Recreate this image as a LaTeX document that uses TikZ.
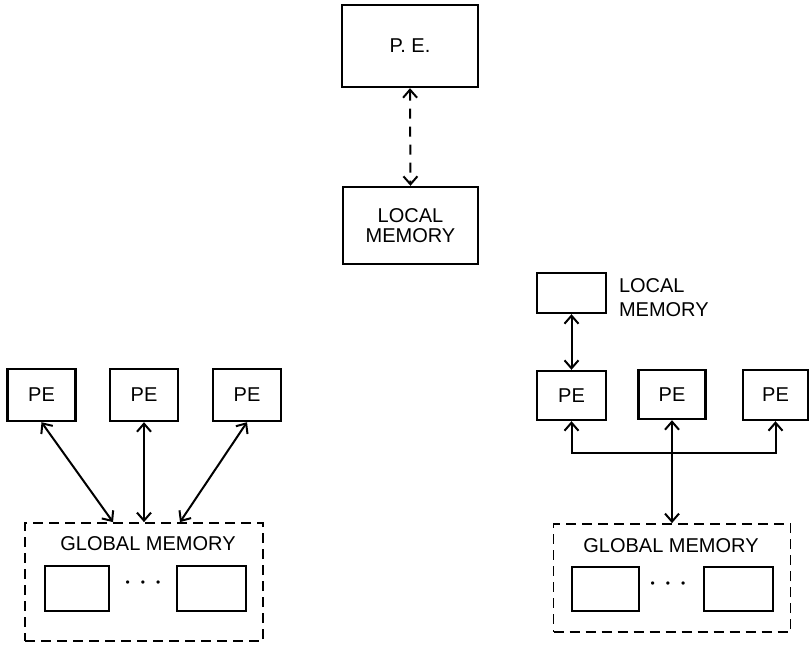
\documentclass[tikz,border=0pt]{standalone}
\usepackage{fontspec}
\setmainfont{Liberation Sans}
\usetikzlibrary{arrows.meta, positioning}
\newcommand{\gapdots}{{\fontsize{6}{6}\selectfont\textbullet\hspace{5.5pt}\textbullet\hspace{5.5pt}\textbullet}}
\tikzset{
  every picture/.style={font=\fontsize{10}{12}\selectfont, line width=1pt},
  box/.style={draw, line width=1.2pt, align=center, inner sep=0pt, minimum width=#1},
  box/.default=34pt,
  membox/.style={draw, dashed, dash pattern=on 5pt off 3pt, line width=0.9pt, minimum width=119pt, minimum height=56pt},
  arrow/.style={{Straight Barb[length=4pt, width=7pt]}-{Straight Barb[length=4pt, width=7pt]}, line width=1pt},
  label/.style={align=left, inner sep=0pt},
}
\begin{document}
\begin{tikzpicture}[x=0.5pt, y=-0.5pt]
  \useasboundingbox (0,0) rectangle (810,644);
  % top: one PE and its local memory
  \node[box=68pt, minimum height=41pt] (pe) at (410,46) {P. E.};
  \node[box=67.5pt, minimum height=38.5pt] (lmem) at (410.5,225.5) {\raisebox{-3pt}{\shortstack{LOCAL\\MEMORY}}};
  \draw[arrow, dashed, dash pattern=on 5pt off 4pt] (pe.south) -- (lmem.north);

  % left: PEs on a shared global memory
  \node[box, minimum height=26pt] (pa1) at (41.5,395) {PE};
  \node[box, minimum height=26pt] (pa2) at (144,395) {PE};
  \node[box, minimum height=26pt] (pa3) at (247,395) {PE};
  \node[membox, minimum height=59pt] (gma) at (144,582) {};
  \node[label] (gla) at (148,544) {GLOBAL MEMORY};
  \node[box=32pt, minimum height=22.5pt] (ma1) at (77,588.5) {};
  \node[box=34.5pt, minimum height=22.5pt] (ma2) at (211.5,588.5) {};
  \node (dotsa) at (143,584) {\gapdots};
  \draw[arrow] (pa1.south) -- ([xshift=-15.5pt]gma.north);
  \draw[arrow] (pa2.south) -- (gma.north);
  \draw[arrow] (pa3.south) -- ([xshift=18pt]gma.north);

  % right: PEs with local memory, bus to global memory
  \node[box=34.5pt, minimum height=20pt] (lmb) at (571.5,293) {};
  \node[label, anchor=west] (llb) at (618,298) {LOCAL\\MEMORY};
  \node[box=34.5pt, minimum height=24.5pt] (pb1) at (571.5,395.5) {PE};
  \node[box=33.5pt, minimum height=24.5pt] (pb2) at (672,394.5) {PE};
  \node[box=32.5pt, minimum height=25pt] (pb3) at (775.5,395) {PE};
  \node[membox, minimum width=118.5pt, minimum height=54pt] (gmb) at (672,578) {};
  \node[label] (glb) at (671,546) {GLOBAL MEMORY};
  \node[box=33.5pt, minimum height=22pt] (mb1) at (605.5,589) {};
  \node[box=34.5pt, minimum height=22pt] (mb2) at (738.5,589) {};
  \node (dotsb) at (668,585) {\gapdots};
  \coordinate (bus) at (672,453);
  \draw[arrow] (lmb.south) -- (pb1.north);
  \draw[arrow] (pb1.south) -- (pb1.south |- bus) -- (pb3.south |- bus) -- (pb3.south);
  \draw[arrow] (pb2.south) -- (gmb.north);
\end{tikzpicture}
\end{document}
